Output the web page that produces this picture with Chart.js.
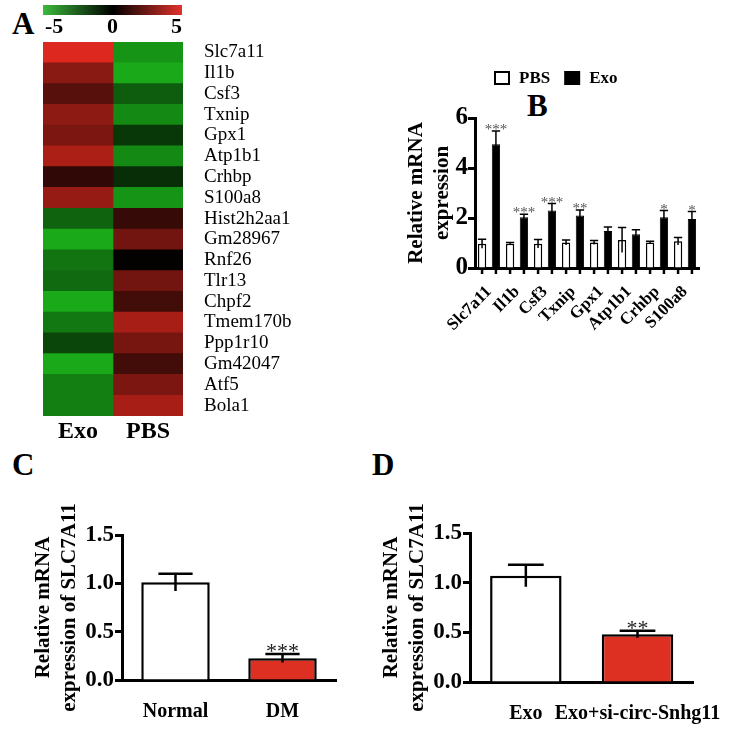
<!DOCTYPE html>
<html>
<head>
<meta charset="utf-8">
<script src="https://cdn.jsdelivr.net/npm/chart.js@4.4.1/dist/chart.umd.min.js"></script>
<style>
  html, body { margin: 0; padding: 0; background: #fff; }
  body { width: 744px; height: 731px; position: relative; overflow: hidden; }
  .box { position: absolute; }
  .tag { position: absolute; font: bold 31px 'Liberation Serif', serif; color: #000; line-height: 1; }
</style>
</head>
<body>
<div class="tag" style="left:12px;top:8px">A</div>
<div class="tag" style="left:527px;top:90px">B</div>
<div class="tag" style="left:12px;top:449px">C</div>
<div class="tag" style="left:372px;top:449px">D</div>

<div class="box" style="left:0;top:0;width:360px;height:450px"><canvas id="chartHeat"></canvas></div>
<div class="box" style="left:396px;top:60px;width:310px;height:300px"><canvas id="chartGenes"></canvas></div>
<div class="box" style="left:0;top:500px;width:372px;height:231px"><canvas id="chartDM"></canvas></div>
<div class="box" style="left:372px;top:500px;width:372px;height:231px"><canvas id="chartSi"></canvas></div>

<script>
// A: heatmap (log2 fold change, -5..5)
const heatGenes = ['Slc7a11', 'Il1b', 'Csf3', 'Txnip', 'Gpx1', 'Atp1b1', 'Crhbp', 'S100a8',
  'Hist2h2aa1', 'Gm28967', 'Rnf26', 'Tlr13', 'Chpf2', 'Tmem170b', 'Ppp1r10', 'Gm42047', 'Atf5', 'Bola1'];
const heatColumns = ['Exo', 'PBS'];
const heatExo = [5.0, 3.1, 2.0, 3.2, 2.8, 3.9, 1.1, 3.4, -2.8, -4.8, -3.3, -3.0, -4.8, -3.4, -2.0, -4.8, -3.6, -3.6];
const heatPbs = [-4.2, -4.8, -2.6, -3.9, -1.6, -3.9, -1.3, -4.2, 1.2, 2.6, 0.1, 2.6, 1.5, 3.8, 2.7, 1.5, 2.8, 3.8];
const scaleTicks = [-5, 0, 5];

// B: qPCR of the up-regulated genes
const qpcrGenes = ['Slc7a11', 'Il1b', 'Csf3', 'Txnip', 'Gpx1', 'Atp1b1', 'Crhbp', 'S100a8'];
const pbsMean = [0.97, 0.97, 0.97, 1.02, 1.02, 1.12, 1.02, 1.07];
const pbsErr = [0.18, 0.05, 0.17, 0.10, 0.08, 0.50, 0.05, 0.15];
const exoMean = [4.95, 2.03, 2.30, 2.10, 1.48, 1.35, 2.03, 1.96];
const exoErr = [0.53, 0.12, 0.28, 0.22, 0.16, 0.18, 0.27, 0.30];
const exoStars = ['***', '***', '***', '**', '', '', '*', '*'];
const geneTicks = [0, 2, 4, 6];

// C: SLC7A11 normal vs DM
const dmGroups = ['Normal', 'DM'];
const dmMean = [1.01, 0.225];
const dmErr = [0.09, 0.045];
const dmStars = ['', '***'];

// D: SLC7A11 exo vs knockdown
const siGroups = ['Exo', 'Exo+si-circ-Snhg11'];
const siMean = [1.07, 0.48];
const siErr = [0.11, 0.035];
const siStars = ['', '**'];

const RED = '#de3022';
const SERIF = "'Liberation Serif', 'Times New Roman', serif";

function heatColor(v) {
  const t = Math.min(Math.abs(v) / 5, 1);
  if (v >= 0) return `rgb(${Math.round(220 * t)},${Math.round(40 * t)},${Math.round(30 * t)})`;
  return `rgb(${Math.round(26 * t)},${Math.round(176 * t)},${Math.round(26 * t)})`;
}

// error bars (cap on top) + significance stars
const errorBars = {
  id: 'errorBars',
  afterDatasetsDraw(chart, args, opts) {
    const ctx = chart.ctx;
    const y = chart.scales.y;
    chart.data.datasets.forEach((ds, di) => {
      if (!ds.errors) return;
      chart.getDatasetMeta(di).data.forEach((bar, i) => {
        const top = y.getPixelForValue(ds.data[i] + ds.errors[i]);
        const low = y.getPixelForValue(ds.data[i] - ds.errors[i]);
        const half = bar.width * opts.capRatio / 2;
        ctx.save();
        ctx.strokeStyle = '#000';
        ctx.lineWidth = opts.lineWidth;
        ctx.beginPath();
        ctx.moveTo(bar.x, low);
        ctx.lineTo(bar.x, top);
        ctx.moveTo(bar.x - half, top);
        ctx.lineTo(bar.x + half, top);
        ctx.stroke();
        if (ds.stars && ds.stars[i]) {
          ctx.fillStyle = opts.starColor;
          ctx.font = opts.starFont;
          ctx.textAlign = 'center';
          ctx.textBaseline = 'alphabetic';
          ctx.fillText(ds.stars[i], bar.x, top + opts.starOffset);
        }
        ctx.restore();
      });
      if (opts.barTicks) {
        // small tick under every bar, as in the Prism-style axis
        chart.getDatasetMeta(di).data.forEach(bar => {
          ctx.save();
          ctx.strokeStyle = '#000';
          ctx.lineWidth = 2.5;
          ctx.beginPath();
          ctx.moveTo(bar.x, chart.chartArea.bottom);
          ctx.lineTo(bar.x, chart.chartArea.bottom + opts.barTicks);
          ctx.stroke();
          ctx.restore();
        });
      }
    });
  }
};

// colour key above the heatmap
const colorKey = {
  id: 'colorKey',
  afterDraw(chart) {
    const ctx = chart.ctx;
    const left = chart.chartArea.left, w = 139;
    const g = ctx.createLinearGradient(left, 0, left + w, 0);
    g.addColorStop(0, '#3cba3c');
    g.addColorStop(0.5, '#000');
    g.addColorStop(1, '#e0322a');
    ctx.save();
    ctx.fillStyle = g;
    ctx.fillRect(left, 5, w, 10);
    ctx.fillStyle = '#000';
    ctx.font = 'bold 22px ' + SERIF;
    ctx.textBaseline = 'middle';
    scaleTicks.forEach((v, i) => {
      ctx.textAlign = i === 0 ? 'left' : (i === scaleTicks.length - 1 ? 'right' : 'center');
      ctx.fillText(String(v), left + (v + 5) / 10 * w + (i === 0 ? 2 : 0), 27);
    });
    ctx.restore();
  }
};

// open/filled box legend for B
const boxLegend = {
  id: 'boxLegend',
  afterDraw(chart, args, opts) {
    const ctx = chart.ctx;
    let x = opts.x;
    ctx.save();
    ctx.font = 'bold 17px ' + SERIF;
    ctx.textBaseline = 'middle';
    ctx.textAlign = 'left';
    chart.data.datasets.forEach(ds => {
      ctx.fillStyle = ds.backgroundColor;
      ctx.fillRect(x, opts.y - 6, 14, 12);
      ctx.strokeStyle = '#000';
      ctx.lineWidth = 2;
      ctx.strokeRect(x, opts.y - 6, 14, 12);
      ctx.fillStyle = '#000';
      ctx.fillText(ds.label, x + 24, opts.y + 1);
      x += 24 + ctx.measureText(ds.label).width + 15;
    });
    ctx.restore();
  }
};

Chart.defaults.font.family = SERIF;
Chart.defaults.color = '#000';
Chart.defaults.animation = false;

// A
new Chart(document.getElementById('chartHeat'), {
  type: 'bar',
  data: {
    labels: heatGenes,
    datasets: [
      { label: heatColumns[0], data: heatGenes.map(() => 1), backgroundColor: heatExo.map(heatColor) },
      { label: heatColumns[1], data: heatGenes.map(() => 1), backgroundColor: heatPbs.map(heatColor) }
    ]
  },
  options: {
    indexAxis: 'y',
    responsive: true,
    maintainAspectRatio: false,
    layout: { padding: { left: 43, top: 42, right: 0, bottom: 0 } },
    datasets: { bar: { barPercentage: 1, categoryPercentage: 1, borderWidth: 0 } },
    plugins: { legend: { display: false }, tooltip: { enabled: false } },
    scales: {
      x: {
        type: 'linear', stacked: true, min: 0, max: 2,
        afterBuildTicks: s => { s.ticks = heatColumns.map((c, i) => ({ value: i + 0.5 })); },
        afterFit: s => { s.height = 34; },
        ticks: { callback: (v, i) => heatColumns[i], font: { size: 24, weight: 'bold' }, padding: -7 },
        grid: { display: false }, border: { display: false }
      },
      y: {
        position: 'right', stacked: true,
        afterFit: s => { s.width = 177; },
        ticks: { font: { size: 19 }, padding: 13, autoSkip: false },
        grid: { display: false }, border: { display: false }
      }
    }
  },
  plugins: [colorKey]
});

// B
new Chart(document.getElementById('chartGenes'), {
  type: 'bar',
  data: {
    labels: qpcrGenes,
    datasets: [
      { label: 'PBS', data: pbsMean, errors: pbsErr, backgroundColor: '#fff', borderColor: '#000', borderWidth: 1.5 },
      { label: 'Exo', data: exoMean, errors: exoErr, stars: exoStars, backgroundColor: '#000', borderColor: '#000', borderWidth: 1 }
    ]
  },
  options: {
    responsive: true,
    maintainAspectRatio: false,
    layout: { padding: { left: 0, top: 58, right: 7, bottom: 0 } },
    datasets: { bar: { barPercentage: 0.6, categoryPercentage: 0.99 } },
    plugins: {
      legend: { display: false }, tooltip: { enabled: false },
      errorBars: { capRatio: 1, lineWidth: 1.5, starFont: '15px ' + SERIF, starColor: '#555', starOffset: 3, barTicks: 6 },
      boxLegend: { x: 99, y: 18 }
    },
    scales: {
      x: {
        afterFit: s => { s.height = 92; },
        ticks: { font: { size: 17, weight: 'bold' }, minRotation: 45, maxRotation: 45, padding: 6, autoSkip: false },
        grid: { display: false },
        border: { width: 3, color: '#000' }
      },
      y: {
        min: 0, max: 6,
        afterBuildTicks: s => { s.ticks = geneTicks.map(v => ({ value: v })); },
        afterFit: s => { s.width = 79; },
        title: { display: true, text: ['Relative mRNA', 'expression'], font: { size: 21, weight: 'bold', lineHeight: 1.25 }, padding: { top: 7, bottom: 0 } },
        ticks: { font: { size: 25, weight: 'bold' }, padding: 0 },
        grid: { drawOnChartArea: false, tickLength: 7, tickWidth: 3, color: '#000' },
        border: { width: 3, color: '#000' }
      }
    }
  },
  plugins: [errorBars, boxLegend]
});

function slcOptions(padTop, padRight, yWidth, xHeight, titlePad) {
  return {
    responsive: true,
    maintainAspectRatio: false,
    layout: { padding: { left: 0, top: padTop, right: padRight, bottom: 0 } },
    datasets: { bar: { barPercentage: 0.64, categoryPercentage: 1, borderWidth: 2.5, borderColor: '#000' } },
    plugins: {
      legend: { display: false }, tooltip: { enabled: false },
      errorBars: { capRatio: 0.5, lineWidth: 2.5, starFont: '22px ' + SERIF, starColor: '#222', starOffset: 4 }
    },
    scales: {
      x: {
        afterFit: s => { s.height = xHeight; },
        ticks: { font: { size: 20, weight: 'bold' }, minRotation: 0, maxRotation: 0, autoSkip: false, padding: 12 },
        grid: { display: false },
        border: { width: 3, color: '#000' }
      },
      y: {
        min: 0, max: 1.5,
        ticks: { stepSize: 0.5, callback: v => v.toFixed(1), font: { size: 23, weight: 'bold' }, padding: 1 },
        afterFit: s => { s.width = yWidth; },
        title: { display: true, text: ['Relative mRNA', 'expression of SLC7A11'], font: { size: 21, weight: 'bold', lineHeight: 1.25 }, padding: { top: titlePad, bottom: 0 } },
        grid: { drawOnChartArea: false, tickLength: 7, tickWidth: 3, color: '#000' },
        border: { width: 3, color: '#000' }
      }
    }
  };
}

// C
new Chart(document.getElementById('chartDM'), {
  type: 'bar',
  data: {
    labels: dmGroups,
    datasets: [{ label: 'SLC7A11', data: dmMean, errors: dmErr, stars: dmStars, backgroundColor: ['#fff', RED] }]
  },
  options: slcOptions(35, 36, 122, 51, 30),
  plugins: [errorBars]
});

// D
new Chart(document.getElementById('chartSi'), {
  type: 'bar',
  data: {
    labels: siGroups,
    datasets: [{ label: 'SLC7A11', data: siMean, errors: siErr, stars: siStars, backgroundColor: ['#fff', RED] }]
  },
  options: slcOptions(33, 47, 98, 49, 6),
  plugins: [errorBars]
});
</script>
</body>
</html>
